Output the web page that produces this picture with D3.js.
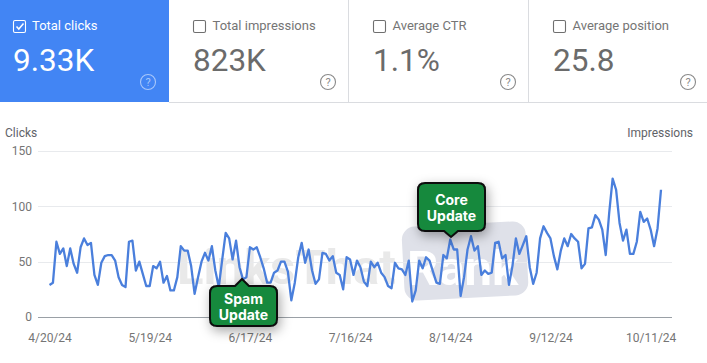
<!DOCTYPE html>
<html>
<head>
<meta charset="utf-8">
<script src="https://cdn.jsdelivr.net/npm/d3@7"></script>
<style>
  html, body { margin: 0; padding: 0; background: #fff; }
  svg { display: block; font-family: Roboto, sans-serif; }
  .axis path, .axis line { shape-rendering: crispEdges; }
  .axis text { font-size: 12px; fill: #757575; font-family: Roboto, sans-serif; }
  .note text { font-family: Inter, sans-serif; font-weight: 700; font-size: 14px; fill: #fff; text-anchor: middle; }
</style>
</head>
<body>
<div id="chart"></div>
<script>
// Daily clicks, one value per day from the start date
const startDate = "2024-04-20";
const clicks = [
  29, 31, 68, 57, 62, 46, 62, 48, 40, 63, 71, 65, 67, 38, 29, 49, 55, 56, 56, 51,
  36, 29, 27, 68, 69, 42, 50, 39, 28, 28, 46, 44, 50, 31, 37, 24, 24, 36, 64, 60,
  60, 46, 21, 36, 50, 58, 51, 64, 42, 27, 52, 76, 71, 52, 69, 45, 34, 36, 63, 61,
  63, 54, 44, 31, 31, 40, 42, 50, 50, 41, 15, 31, 54, 67, 49, 61, 42, 30, 34, 58,
  57, 51, 55, 40, 38, 25, 54, 52, 38, 51, 45, 32, 28, 50, 45, 49, 40, 36, 28, 26,
  49, 44, 43, 38, 51, 14, 24, 51, 44, 54, 51, 41, 31, 30, 56, 53, 70, 61, 61, 19,
  36, 61, 73, 60, 64, 38, 42, 39, 40, 67, 68, 53, 56, 29, 46, 71, 57, 65, 73, 45,
  30, 40, 71, 82, 76, 71, 55, 43, 60, 71, 64, 75, 71, 68, 44, 48, 80, 81, 92, 88,
  79, 56, 94, 125, 115, 85, 69, 79, 57, 57, 68, 95, 86, 89, 79, 64, 80, 115
];
const yTicks = [0, 50, 100, 150];
const xTickDates = ["2024-04-20", "2024-05-19", "2024-06-17", "2024-07-16", "2024-08-14", "2024-09-12", "2024-10-11"];

const cardLabels = ["Total clicks", "Total impressions", "Average CTR", "Average position"];
const cardValues = ["9.33K", "823K", "1.1%", "25.8"];
const noteLines = [["Spam", "Update"], ["Core", "Update"]];

const width = 707;
const height = 363;
const parseDate = d3.utcParse("%Y-%m-%d");
const start = parseDate(startDate);
const series = clicks.map((v, i) => ({ date: d3.utcDay.offset(start, i), value: v }));

const svg = d3.select("#chart").append("svg").attr("width", width).attr("height", height);

const defs = svg.append("defs");
const shadow = defs.append("filter").attr("id", "shadow")
  .attr("x", "-40%").attr("y", "-40%").attr("width", "180%").attr("height", "190%");
shadow.append("feDropShadow").attr("dx", 2).attr("dy", 4).attr("stdDeviation", 6)
  .attr("flood-color", "#000").attr("flood-opacity", 0.35);

// Metric cards along the top
const cardX = [0, 169, 349, 529];
const cardW = [169, 180, 180, 178];
const cards = svg.selectAll("g.card").data(cardLabels).join("g")
  .attr("class", "card")
  .attr("transform", (d, i) => `translate(${cardX[i]},0)`);

cards.append("rect")
  .attr("width", (d, i) => cardW[i]).attr("height", 102)
  .attr("fill", (d, i) => (i === 0 ? "#4285f4" : "#fff"));

cards.append("rect")
  .attr("x", (d, i) => (i === 0 ? 13.5 : 24.5)).attr("y", 20.5)
  .attr("width", 12).attr("height", 12).attr("rx", 1.5)
  .attr("fill", "none")
  .attr("stroke", (d, i) => (i === 0 ? "#fff" : "#6f6f6f")).attr("stroke-width", 1.1);

cards.filter((d, i) => i === 0).append("path")
  .attr("d", "M16.5 26.5 L18.8 29 L23.5 23.5")
  .attr("fill", "none").attr("stroke", "#fff").attr("stroke-width", 1.5);

cards.append("text")
  .attr("x", (d, i) => (i === 0 ? 32 : 43.5)).attr("y", 30)
  .attr("font-size", 13)
  .attr("fill", (d, i) => (i === 0 ? "#fff" : "#757575"))
  .text(d => d);

cards.append("text")
  .attr("x", (d, i) => (i === 0 ? 13 : 24)).attr("y", 71)
  .attr("font-size", 31.5)
  .attr("fill", (d, i) => (i === 0 ? "#fff" : "#6b6b6b"))
  .text((d, i) => cardValues[i]);

const helpX = [148, 159, 159, 159];
cards.append("circle")
  .attr("cx", (d, i) => helpX[i]).attr("cy", 82).attr("r", 7.5)
  .attr("fill", "none")
  .attr("stroke", (d, i) => (i === 0 ? "#a8c7fa" : "#8a8a8a")).attr("stroke-width", 1.1);
cards.append("text")
  .attr("x", (d, i) => helpX[i]).attr("y", 86)
  .attr("text-anchor", "middle").attr("font-size", 11)
  .attr("fill", (d, i) => (i === 0 ? "#a8c7fa" : "#8a8a8a"))
  .text("?");

svg.append("line").attr("x1", 169).attr("x2", width).attr("y1", 102.5).attr("y2", 102.5).attr("stroke", "#dadce0");
svg.selectAll("line.sep").data([348.5, 528.5]).join("line")
  .attr("class", "sep")
  .attr("x1", d => d).attr("x2", d => d).attr("y1", 0).attr("y2", 102)
  .attr("stroke", "#dadce0");

// Watermark behind the chart
svg.append("rect")
  .attr("x", 403).attr("y", 224).attr("width", 124).attr("height", 74).attr("rx", 13)
  .attr("transform", "rotate(-3 465 260)")
  .attr("fill", "#dfe1e9");
svg.append("text")
  .attr("x", 177).attr("y", 284)
  .attr("font-family", "Roboto, sans-serif").attr("font-weight", 700).attr("font-size", 49)
  .attr("fill", "#e9e9e9")
  .text("LinksThat");
svg.append("text")
  .attr("x", 407).attr("y", 285)
  .attr("font-family", "Roboto, sans-serif").attr("font-weight", 700).attr("font-size", 49)
  .attr("fill", "#fff")
  .text("Rank");

// Scales and axes
const x = d3.scaleUtc().domain(d3.extent(series, d => d.date)).range([49.5, 661]);
const y = d3.scaleLinear().domain([0, 150]).range([317, 151]);

const yGrid = d3.axisLeft(y).tickValues(yTicks).tickSize(-634).tickFormat("");
svg.append("g").attr("class", "axis grid").attr("transform", "translate(38,0)").call(yGrid)
  .call(g => g.select(".domain").remove())
  .call(g => g.selectAll("line").attr("stroke", "#e8eaed"))
  .call(g => g.selectAll("line").filter(d => d === 0).attr("stroke", "#9aa0a6"));

const yAxis = d3.axisLeft(y).tickValues(yTicks).tickSize(0).tickPadding(0);
svg.append("g").attr("class", "axis").attr("transform", "translate(32,0)").call(yAxis)
  .call(g => g.select(".domain").remove());

const xAxis = d3.axisBottom(x)
  .tickValues(xTickDates.map(parseDate))
  .tickSize(0).tickPadding(0)
  .tickFormat(d3.utcFormat("%-m/%-d/%y"));
svg.append("g").attr("class", "axis").attr("transform", "translate(0,333)").call(xAxis)
  .call(g => g.select(".domain").remove());

svg.append("text").attr("x", 5).attr("y", 137).attr("font-size", 12).attr("fill", "#5f6368").text("Clicks");
svg.append("text").attr("x", 693).attr("y", 137).attr("text-anchor", "end").attr("font-size", 12).attr("fill", "#5f6368").text("Impressions");

// Clicks line
const line = d3.line().x(d => x(d.date)).y(d => y(d.value));
svg.append("path").datum(series)
  .attr("d", line)
  .attr("fill", "none")
  .attr("stroke", "#4a7fdc")
  .attr("stroke-width", 2.3)
  .attr("stroke-linejoin", "round");

// Callouts: a box with a small pointer, up for Spam, down for Core
function callout(left, top, w, h, tipX, tipY, lines) {
  const r = 7;
  const right = left + w;
  const bottom = top + h;
  const up = tipY < top;
  const p = d3.path();
  p.moveTo(left + r, top);
  if (up) { p.lineTo(tipX - 7, top); p.lineTo(tipX, tipY); p.lineTo(tipX + 7, top); }
  p.lineTo(right - r, top);
  p.quadraticCurveTo(right, top, right, top + r);
  p.lineTo(right, bottom - r);
  p.quadraticCurveTo(right, bottom, right - r, bottom);
  if (!up) { p.lineTo(tipX + 7, bottom); p.lineTo(tipX, tipY); p.lineTo(tipX - 7, bottom); }
  p.lineTo(left + r, bottom);
  p.quadraticCurveTo(left, bottom, left, bottom - r);
  p.lineTo(left, top + r);
  p.quadraticCurveTo(left, top, left + r, top);
  p.closePath();

  const g = svg.append("g").attr("class", "note");
  g.append("path").attr("d", p.toString())
    .attr("fill", "#12893c").attr("stroke", "#0b0b0b").attr("stroke-width", 2)
    .attr("filter", "url(#shadow)");
  g.selectAll("text").data(lines).join("text")
    .attr("x", left + w / 2)
    .attr("y", (d, i) => top + h / 2 - 2 + i * 16)
    .text(d => d);
}

callout(210, 286, 67, 40, 242, 279, noteLines[0]);
callout(418, 183, 67, 48, 451, 237, noteLines[1]);
</script>
</body>
</html>
